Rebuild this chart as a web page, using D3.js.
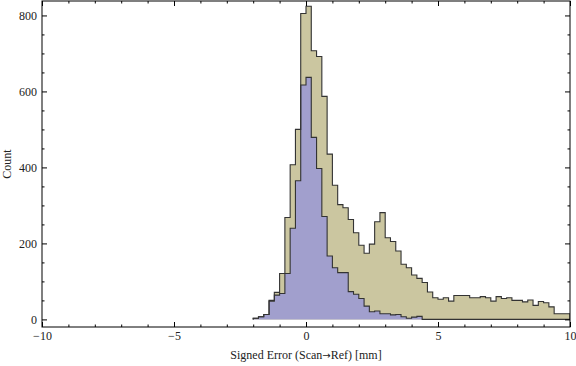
<!DOCTYPE html>
<html><head><meta charset="utf-8">
<script src="https://cdn.jsdelivr.net/npm/d3@7"></script>
<style>body{margin:0;background:#fff} svg{display:block}</style>
</head><body><svg id="c" width="576" height="366"></svg>
<script>
// bin left edges (mm), bin width 0.2
const binLefts = [-2.0,-1.8,-1.6,-1.4,-1.2,-1.0,-0.8,-0.6,-0.4,-0.2,
  0.0,0.2,0.4,0.6,0.8,1.0,1.2,1.4,1.6,1.8,
  2.0,2.2,2.4,2.6,2.8,3.0,3.2,3.4,3.6,3.8,
  4.0,4.2,4.4,4.6,4.8,5.0,5.2,5.4,5.6,5.8,
  6.0,6.2,6.4,6.6,6.8,7.0,7.2,7.4,7.6,7.8,
  8.0,8.2,8.4,8.6,8.8,9.0,9.2,9.4,9.6,9.8];
const binWidth = 0.2;
// all points (tan)
const countsAll = [3,7,13,50,71,121,268,407,500,805,
  824,707,692,587,435,353,302,294,263,228,
  195,174,198,257,281,215,205,180,145,136,
  117,108,97,72,57,53,57,48,63,63,
  63,57,57,60,57,48,60,55,57,50,
  50,46,51,37,47,44,33,15,15,15];
// subset (blue)
const countsSub = [3,7,13,48,64,68,121,240,365,617,
  637,479,397,271,167,136,123,123,73,66,
  55,35,20,22,15,15,12,13,7,3,
  6,8,0,0,0,0,0,0,0,0,
  0,0,0,0,0,0,0,0,0,0,
  0,0,0,0,0,0,0,0,0,0];
const xMajor = [-10,-5,0,5,10];
const xMinor = [-9,-8,-7,-6,-4,-3,-2,-1,1,2,3,4,6,7,8,9];
const yMajor = [0,200,400,600,800];
const yMinor = [50,100,150,250,300,350,450,500,550,650,700,750];
const xLabelParts = ["Signed Error (Scan", "\u2192", "Ref) [mm]"];
const yLabel = "Count";

const svg = d3.select("#c");
const L = 42, R = 570, T = 1, B = 327;
const x = d3.scaleLinear().domain([-10,10]).range([L,R]);
const y = d3.scaleLinear().domain([-20,838]).range([B,T]);

svg.append("defs").append("clipPath").attr("id","clip")
  .append("rect").attr("x",L).attr("y",T).attr("width",R-L).attr("height",B-T);

function stepPts(counts){
  const pts = [[binLefts[0],0]];
  binLefts.forEach((b,i)=>pts.push([b,counts[i]]));
  const last = binLefts[binLefts.length-1]+binWidth;
  pts.push([last,counts[counts.length-1]]);
  pts.push([last,0]);
  return pts;
}
const area = d3.area().curve(d3.curveStepAfter).x(d=>x(d[0])).y0(y(0)).y1(d=>y(d[1]));
const line = d3.line().curve(d3.curveStepAfter).x(d=>x(d[0])).y(d=>y(d[1]));

const g = svg.append("g").attr("clip-path","url(#clip)");
const series = [
  {counts: countsAll, fill: "#cbc6a0"},
  {counts: countsSub, fill: "#a19fcd"}
];
series.forEach(s=>{
  const p = stepPts(s.counts);
  g.append("path").attr("d",area(p)).attr("fill",s.fill).attr("stroke","none");
});
series.forEach(s=>{
  const p = stepPts(s.counts);
  g.append("path").attr("d",line(p)).attr("fill","none").attr("stroke","#333").attr("stroke-width",1.1);
});

const font = "'Liberation Serif','Times New Roman',serif";
function styleAxis(sel){
  sel.select(".domain").remove();
  sel.selectAll("line").attr("stroke","#000");
  sel.selectAll("text").attr("font-family",font).attr("font-size",12).attr("fill","#222");
}
// bottom
svg.append("g").attr("transform",`translate(0,${B})`)
  .call(d3.axisBottom(x).tickValues(xMajor).tickSize(-5).tickPadding(4).tickFormat(d3.format("d")))
  .call(styleAxis);
svg.append("g").attr("transform",`translate(0,${B})`)
  .call(d3.axisBottom(x).tickValues(xMinor).tickSize(-2.5).tickFormat(""))
  .call(styleAxis);
// top
svg.append("g").attr("transform",`translate(0,${T})`)
  .call(d3.axisTop(x).tickValues(xMajor).tickSize(-5).tickFormat(""))
  .call(styleAxis);
svg.append("g").attr("transform",`translate(0,${T})`)
  .call(d3.axisTop(x).tickValues(xMinor).tickSize(-2.5).tickFormat(""))
  .call(styleAxis);
// left
svg.append("g").attr("transform",`translate(${L},0)`)
  .call(d3.axisLeft(y).tickValues(yMajor).tickSize(-5).tickPadding(5).tickFormat(d3.format("d")))
  .call(styleAxis);
svg.append("g").attr("transform",`translate(${L},0)`)
  .call(d3.axisLeft(y).tickValues(yMinor).tickSize(-2.5).tickFormat(""))
  .call(styleAxis);
// right
svg.append("g").attr("transform",`translate(${R},0)`)
  .call(d3.axisRight(y).tickValues(yMajor).tickSize(-5).tickFormat(""))
  .call(styleAxis);
svg.append("g").attr("transform",`translate(${R},0)`)
  .call(d3.axisRight(y).tickValues(yMinor).tickSize(-2.5).tickFormat(""))
  .call(styleAxis);

// frame
svg.append("rect").attr("x",L).attr("y",T).attr("width",R-L).attr("height",B-T)
  .attr("fill","none").attr("stroke","#000").attr("stroke-width",1);

const xl = svg.append("text").attr("x",(L+R)/2).attr("y",359).attr("text-anchor","middle")
  .attr("font-family",font).attr("font-size",12).attr("fill","#222");
xl.append("tspan").text(xLabelParts[0]);
xl.append("tspan").attr("font-family","'DejaVu Sans',sans-serif").attr("font-size",10).text(xLabelParts[1]);
xl.append("tspan").text(xLabelParts[2]);
svg.append("text").attr("transform",`translate(11,${(T+B)/2}) rotate(-90)`).attr("text-anchor","middle")
  .attr("font-family",font).attr("font-size",12).attr("fill","#222").text(yLabel);
</script></body></html>
